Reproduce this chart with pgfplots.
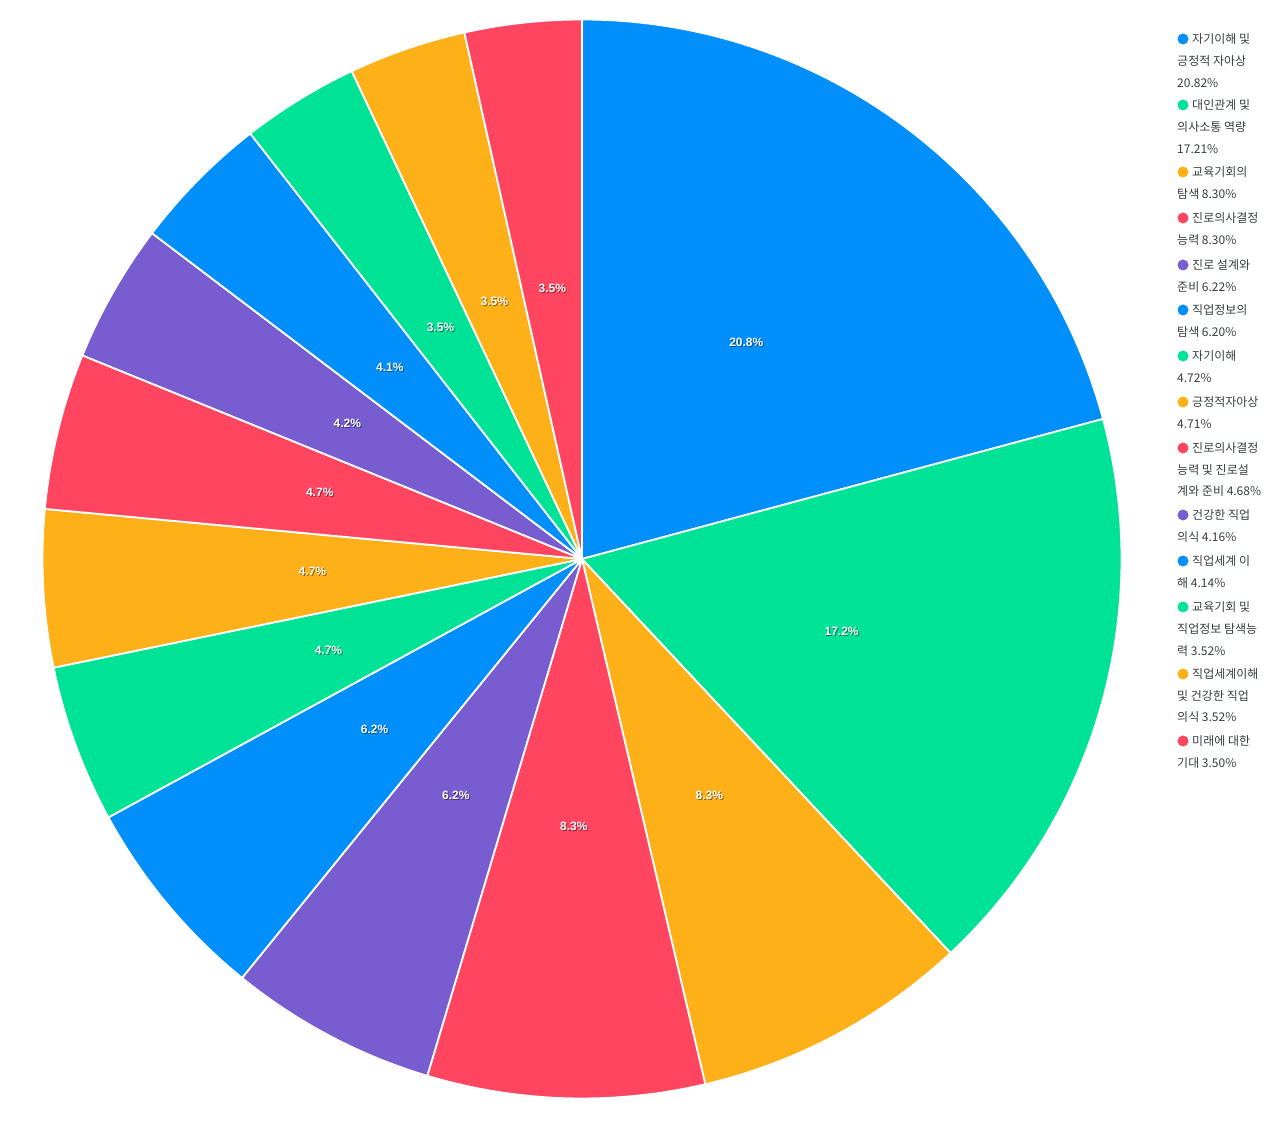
\documentclass[border=0pt]{standalone}
\usepackage{pgfplots}
\pgfplotsset{compat=1.18}
\usepackage{fontspec}
\newfontfamily\kr{Noto Sans CJK KR}
\newfontfamily\lab{Liberation Sans}
\definecolor{cb}{HTML}{008FFB}
\definecolor{cg}{HTML}{00E396}
\definecolor{co}{HTML}{FEB019}
\definecolor{cr}{HTML}{FF4560}
\definecolor{cp}{HTML}{775DD0}
\definecolor{txt}{HTML}{373D3F}
\newcommand{\leg}[2]{\node[anchor=base west,inner sep=0pt,text=txt,font=\kr\fontsize{12}{14}\selectfont] at (axis cs:1177,{1120-#1}) {#2};}
\newcommand{\legm}[3]{\fill[#3] (axis cs:1183,{1121-#1}) circle[radius=5.5];
  \node[anchor=base west,inner sep=0pt,text=txt,font=\kr\fontsize{12}{14}\selectfont] at (axis cs:1192,{1116-#1}) {#2};}
\begin{document}
\begin{tikzpicture}
\begin{axis}[
  scale only axis, width=1287pt, height=1122pt,
  xmin=0, xmax=1287, ymin=0, ymax=1122,
  hide axis, clip=false]
\path (axis cs:0,0) rectangle (axis cs:1287,1122);
\foreach \v/\col/\lbl [remember=\e as \s (initially 0)] in {
  20.82/cb/20.8, 17.21/cg/17.2, 8.30/co/8.3, 8.30/cr/8.3, 6.22/cp/6.2,
  6.20/cb/6.2, 4.72/cg/4.7, 4.71/co/4.7, 4.68/cr/4.7, 4.16/cp/4.2,
  4.14/cb/4.1, 3.52/cg/3.5, 3.52/co/3.5, 3.50/cr/3.5} {
  \pgfmathsetmacro\e{\s+\v}
  \pgfmathsetmacro\a{90-3.6*\s}
  \pgfmathsetmacro\b{90-3.6*\e}
  \pgfmathsetmacro\m{(\a+\b)/2}
  \pgfmathsetmacro\xa{582+539.5*cos(\a)}
  \pgfmathsetmacro\ya{563+539.5*sin(\a)}
  \pgfmathsetmacro\xm{582+270*cos(\m)}
  \pgfmathsetmacro\ym{565+270*sin(\m)}
  \edef\temp{\noexpand\filldraw[fill=\col, draw=white, line width=1.8pt, line join=round] (axis cs:582,563) -- (axis cs:\xa,\ya) arc[start angle=\a, end angle=\b, radius=539.5pt] -- cycle;
  \noexpand\node[xshift=1pt,yshift=-1pt,text=black,opacity=0.45,font=\noexpand\lab\noexpand\bfseries\noexpand\fontsize{12}{14}\noexpand\selectfont] at (axis cs:\xm,\ym) {\lbl\noexpand\%};
  \noexpand\node[text=white,font=\noexpand\lab\noexpand\bfseries\noexpand\fontsize{12}{14}\noexpand\selectfont] at (axis cs:\xm,\ym) {\lbl\noexpand\%};}
  \temp
}
\legm{38}{자기이해 및}{cb}
\leg{64}{긍정적 자아상}
\leg{86}{20.82\%}
\legm{104}{대인관계 및}{cg}
\leg{130}{의사소통 역량}
\leg{152}{17.21\%}
\legm{171}{교육기회의}{co}
\leg{197}{탐색 8.30\%}
\legm{217}{진로의사결정}{cr}
\leg{243}{능력 8.30\%}
\legm{264}{진로 설계와}{cp}
\leg{290}{준비 6.22\%}
\legm{309}{직업정보의}{cb}
\leg{335}{탐색 6.20\%}
\legm{355}{자기이해}{cg}
\leg{381}{4.72\%}
\legm{401}{긍정적자아상}{co}
\leg{427}{4.71\%}
\legm{447}{진로의사결정}{cr}
\leg{473}{능력 및 진로설}
\leg{494}{계와 준비 4.68\%}
\legm{514}{건강한 직업}{cp}
\leg{540}{의식 4.16\%}
\legm{560}{직업세계 이}{cb}
\leg{586}{해 4.14\%}
\legm{606}{교육기회 및}{cg}
\leg{632}{직업정보 탐색능}
\leg{654}{력 3.52\%}
\legm{673}{직업세계이해}{co}
\leg{699}{및 건강한 직업}
\leg{720}{의식 3.52\%}
\legm{740}{미래에 대한}{cr}
\leg{766}{기대 3.50\%}
\end{axis}
\end{tikzpicture}
\end{document}
